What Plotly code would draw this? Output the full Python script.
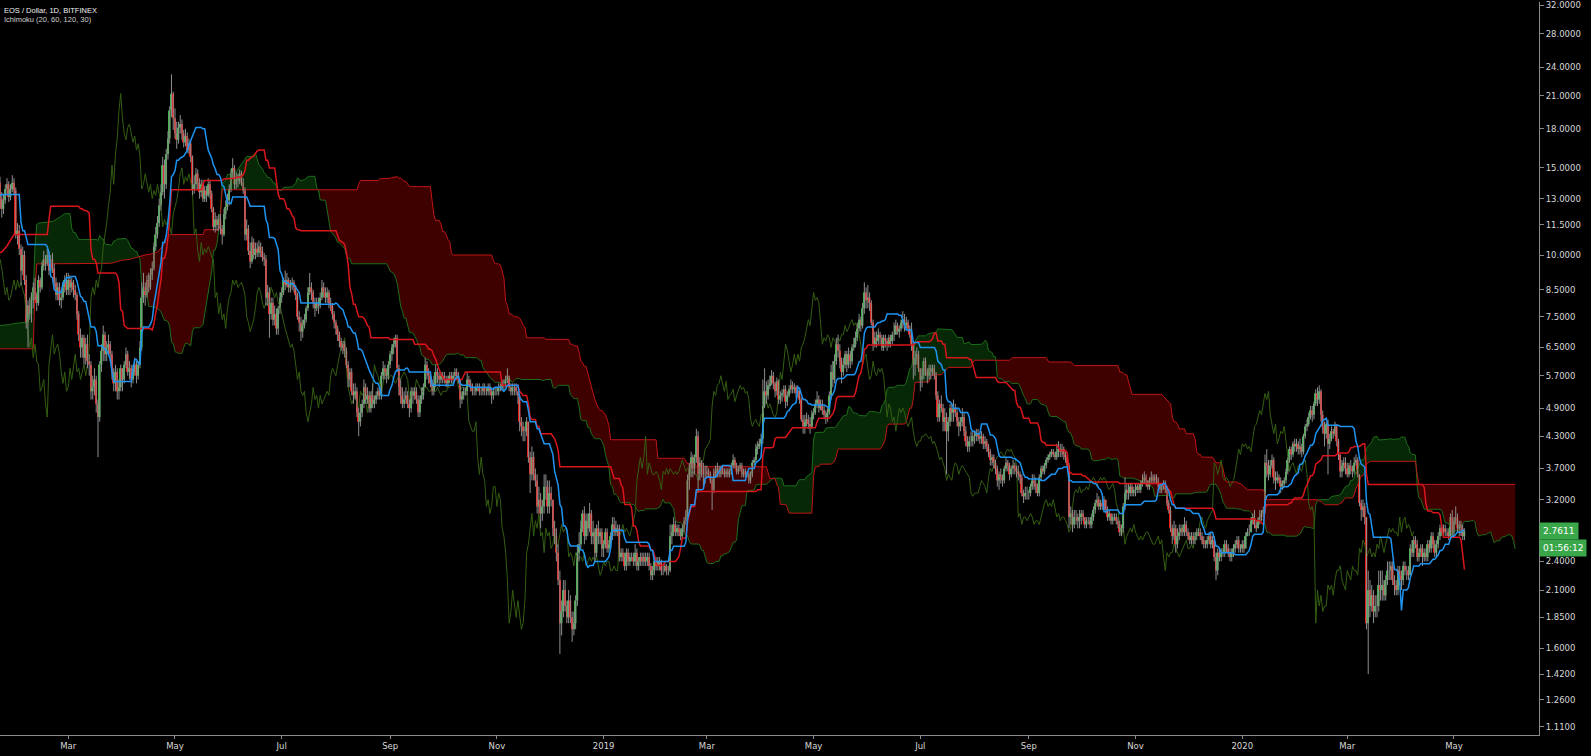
import numpy as np
import pandas as pd
import plotly.graph_objects as go

# EOS / Dollar daily candles (Bitfinex).
# Before the visible window only highs/lows matter (they feed the Ichimoku lines).
pre_start = "2017-08-24"
pre_high = [
    1.55, 1.50, 1.46, 1.48, 1.45, 1.40, 1.35, 1.30,
    1.24, 1.18, 1.08, 0.98, 0.90, 0.94, 0.97, 0.97, 0.93, 0.90, 0.88, 0.85, 0.82, 0.74, 0.70, 0.74, 0.73, 0.80, 0.83, 0.81, 0.78, 0.75, 0.73, 0.75, 0.76, 0.79, 0.82, 0.81, 0.79, 0.78,
    0.78, 0.76, 0.74, 0.72, 0.70, 0.68, 0.67, 0.68, 0.70, 0.72, 0.75, 0.78, 0.84, 0.90, 0.88, 0.83, 0.80, 0.78, 0.76, 0.74, 0.72, 0.70, 0.68, 0.66, 0.66, 0.67, 0.69, 0.71, 0.75, 0.81, 0.90,
    0.95, 1.06, 1.16, 1.14, 1.08, 1.03, 1.04, 1.09, 1.14, 1.19, 1.24, 1.30, 1.35, 1.40, 1.45, 1.50, 1.56, 1.61, 1.58, 1.60, 1.65, 1.70, 1.78, 1.98, 2.20, 2.42, 2.72, 3.05, 3.35, 3.70,
    3.90, 4.00, 4.10, 4.30, 4.20, 4.40, 4.50, 4.30, 4.40, 4.60, 4.50, 4.70, 4.90, 4.80, 4.60, 4.50, 4.40, 4.30, 4.20, 4.10, 9.00, 12.4, 11.5, 9.80, 9.40, 9.60, 9.80, 9.50, 9.30, 9.20, 9.10,
    9.0, 9.6, 10.8, 11.4, 11.6, 12.2, 12.2, 11.8, 11.9, 12.3, 12.1, 16.4, 18.6, 15.4, 14.5, 13.4, 12.3, 12.6, 13.6, 14.3,
]
pre_low = [
    1.38, 1.36, 1.33, 1.34, 1.30, 1.24, 1.18, 1.12,
    1.08, 0.99, 0.90, 0.78, 0.78, 0.84, 0.88, 0.88, 0.85, 0.83, 0.81, 0.77, 0.70, 0.52, 0.56, 0.65, 0.66, 0.68, 0.75, 0.74, 0.71, 0.69, 0.67, 0.69, 0.70, 0.72, 0.75, 0.74, 0.73, 0.72,
    0.71, 0.70, 0.68, 0.66, 0.64, 0.63, 0.62, 0.63, 0.65, 0.67, 0.69, 0.71, 0.74, 0.79, 0.79, 0.76, 0.73, 0.72, 0.70, 0.68, 0.66, 0.64, 0.62, 0.59, 0.60, 0.61, 0.63, 0.64, 0.66, 0.71, 0.76,
    0.83, 0.88, 0.98, 1.00, 0.96, 0.94, 0.96, 0.99, 1.04, 1.09, 1.14, 1.19, 1.24, 1.29, 1.34, 1.39, 1.44, 1.48, 1.45, 1.48, 1.53, 1.58, 1.62, 1.68, 1.86, 2.05, 2.26, 2.55, 2.85, 3.12,
    3.40, 3.50, 3.60, 3.70, 3.70, 3.80, 3.90, 3.80, 3.80, 3.90, 3.90, 4.00, 4.10, 4.00, 3.90, 3.80, 3.70, 3.60, 3.50, 3.40, 5.00, 8.50, 8.00, 7.80, 7.60, 7.90, 8.60, 8.40, 8.30, 8.00, 8.20,
    8.2, 7.8, 9.2, 10.2, 10.6, 11.0, 11.0, 10.3, 10.8, 11.1, 10.5, 11.1, 14.2, 13.6, 12.6, 9.0, 7.9, 11.2, 12.0, 12.8,
]
first_open = 14.0

# visible candles, from 2018-01-21 (one line per month)
start_date = "2018-01-21"
close_2018 = [
    13.0, 12.4, 12.9, 13.6, 13.9, 13.1, 13.6, 14.0, 13.5, 11.0, 11.2,
    10.3, 9.3, 10.0, 8.9, 7.3, 7.9, 7.6, 8.1, 8.6, 8.3, 8.0, 8.9, 8.6, 9.5, 9.8, 9.6, 10.0, 9.3, 9.8, 9.4, 8.8, 8.3, 8.6, 8.1, 8.2, 8.6, 8.9, 8.5,
    8.9, 8.6, 8.8, 8.5, 8.3, 7.6, 6.9, 6.5, 6.8, 6.2, 6.6, 6.1, 6.0, 5.3, 5.4, 5.6, 5.0, 4.7, 6.0, 6.4, 6.9, 6.3, 6.5, 6.6, 6.3, 5.8, 5.5, 5.8, 5.3, 5.4, 5.9,
    5.6, 6.0, 6.3, 5.8, 5.9, 5.6, 5.8, 6.0, 5.7, 6.0, 6.5, 8.2, 8.6, 8.3, 8.9, 8.6, 9.1, 9.4, 10.4, 11.0, 11.6, 12.6, 13.4, 15.2, 13.9, 16.0, 17.2, 19.6, 21.2, 18.9,
    17.6, 17.1, 18.1, 18.4, 17.6, 16.9, 17.4, 16.3, 16.8, 15.8, 13.6, 13.9, 14.6, 14.0, 13.4, 13.9, 13.0, 13.5, 13.2, 13.9, 13.3, 12.4, 11.4, 11.8, 11.5, 11.8, 11.3, 11.0, 12.1, 12.5, 12.9,
    13.6, 14.6, 15.0, 13.9, 14.4, 14.1, 14.6, 14.0, 13.5, 11.0, 11.3, 10.2, 9.7, 10.6, 10.0, 10.3, 10.1, 10.4, 10.2, 9.9, 9.8, 8.2, 8.4, 7.6, 8.0, 7.4, 7.6, 7.1, 7.8, 8.2,
    8.4, 8.9, 8.7, 8.9, 8.6, 8.7, 8.8, 8.6, 8.3, 7.5, 7.3, 7.0, 7.2, 7.4, 7.8, 8.4, 8.6, 8.4, 8.0, 7.8, 8.0, 7.9, 8.2, 8.6, 8.4, 8.2, 8.4, 8.0, 7.9, 7.6, 7.3,
    7.1, 6.9, 6.7, 6.5, 6.6, 6.4, 6.0, 5.6, 5.8, 5.3, 5.2, 5.3, 4.8, 4.6, 4.8, 5.0, 5.4, 5.1, 5.2, 4.9, 5.2, 5.0, 5.1, 5.2, 5.3, 5.2, 5.7, 5.9, 5.8, 5.7, 6.0,
    6.3, 6.5, 6.6, 6.8, 5.9, 5.4, 5.2, 5.0, 5.1, 5.2, 5.0, 4.9, 5.3, 5.2, 5.3, 5.1, 4.8, 5.1, 5.2, 5.4, 6.0, 5.8, 5.7, 5.5, 5.3, 5.5, 5.8, 5.7, 5.6, 5.7,
    5.7, 5.6, 5.5, 5.6, 5.7, 5.6, 5.7, 5.8, 5.7, 5.6, 5.1, 5.2, 5.3, 5.3, 5.6, 5.5, 5.4, 5.3, 5.3, 5.4, 5.4, 5.3, 5.3, 5.4, 5.3, 5.3, 5.4, 5.3, 5.2, 5.3, 5.3,
    5.3, 5.4, 5.4, 5.5, 5.5, 5.6, 5.7, 5.4, 5.3, 5.4, 5.4, 5.3, 5.2, 4.6, 4.5, 4.4, 4.4, 4.6, 3.9, 3.6, 3.9, 3.6, 3.5, 3.1, 3.2, 3.0, 3.1, 3.4, 3.4, 3.1,
    3.3, 3.2, 2.8, 2.7, 2.5, 2.2, 1.8, 1.9, 2.1, 1.95, 1.85, 2.0, 1.85, 1.75, 1.8, 2.0, 2.5, 2.6, 2.8, 3.0, 2.7, 2.9, 2.8, 3.0, 2.7, 2.75, 2.5, 2.8, 2.7, 2.75, 2.55,
]
high_2018 = [
    14.4, 13.4, 13.3, 13.9, 14.3, 14.1, 13.9, 14.5, 14.3, 13.7, 11.6,
    11.5, 10.5, 10.4, 10.2, 9.1, 8.1, 8.2, 8.4, 8.8, 9.0, 8.4, 9.1, 9.0, 9.7, 10.2, 10.0, 10.3, 10.2, 10.0, 10.1, 9.6, 9.0, 8.8, 8.8, 8.5, 8.8, 9.1, 9.2,
    9.2, 9.1, 9.0, 8.9, 8.7, 8.4, 7.7, 7.1, 6.9, 6.9, 6.8, 6.9, 6.3, 6.1, 5.7, 5.9, 5.7, 5.1, 6.1, 6.6, 7.2, 7.0, 6.7, 6.9, 6.7, 6.4, 5.9, 6.0, 5.9, 5.6, 6.0,
    5.9, 6.1, 6.5, 6.4, 6.1, 6.0, 6.0, 6.2, 6.1, 6.1, 6.7, 8.8, 9.2, 8.8, 9.1, 9.2, 9.4, 9.7, 10.6, 11.4, 12.0, 13.0, 13.9, 15.8, 15.6, 16.4, 17.8, 20.0, 23.2, 21.4,
    19.8, 18.6, 18.6, 19.2, 18.8, 17.9, 18.0, 17.7, 17.2, 17.0, 15.9, 14.5, 15.0, 14.9, 14.3, 14.2, 14.2, 13.8, 13.8, 14.3, 14.2, 13.5, 12.5, 12.2, 12.0, 12.1, 12.1, 11.5, 12.4, 12.9, 13.3,
    13.9, 14.9, 15.7, 15.2, 14.7, 14.6, 14.9, 14.8, 14.3, 13.7, 11.8, 11.5, 10.6, 10.9, 10.8, 10.6, 10.6, 10.7, 10.6, 10.4, 10.1, 10.0, 8.7, 8.6, 8.2, 8.2, 7.9, 7.8, 7.9, 8.4,
    8.6, 9.0, 9.3, 9.2, 9.0, 8.9, 9.0, 8.9, 8.7, 8.4, 7.7, 7.5, 7.4, 7.6, 7.9, 8.6, 9.2, 8.8, 8.5, 8.2, 8.2, 8.2, 8.4, 8.9, 8.8, 8.6, 8.6, 8.5, 8.2, 8.0, 7.7,
    7.4, 7.2, 7.0, 6.8, 6.7, 6.7, 6.5, 6.1, 5.9, 5.9, 5.5, 5.5, 5.4, 4.9, 5.0, 5.1, 5.6, 5.5, 5.4, 5.3, 5.3, 5.5, 5.2, 5.3, 5.4, 5.4, 5.8, 6.1, 6.0, 5.9, 6.1,
    6.4, 6.6, 6.8, 6.9, 6.9, 6.0, 5.6, 5.4, 5.3, 5.4, 5.3, 5.1, 5.4, 5.4, 5.4, 5.4, 5.2, 5.2, 5.4, 5.5, 6.2, 6.1, 5.9, 5.8, 5.6, 5.7, 6.0, 5.9, 5.8, 5.8,
    5.8, 5.8, 5.7, 5.7, 5.8, 5.8, 5.8, 5.9, 5.9, 5.8, 5.6, 5.3, 5.4, 5.4, 5.8, 5.7, 5.6, 5.5, 5.4, 5.5, 5.5, 5.5, 5.4, 5.5, 5.5, 5.4, 5.5, 5.5, 5.4, 5.4, 5.4,
    5.4, 5.5, 5.5, 5.6, 5.6, 5.7, 5.9, 5.7, 5.5, 5.5, 5.5, 5.5, 5.3, 5.2, 4.7, 4.6, 4.5, 4.7, 4.6, 4.0, 4.1, 4.0, 3.7, 3.6, 3.4, 3.3, 3.2, 3.6, 3.6, 3.5,
    3.5, 3.4, 3.2, 2.9, 2.8, 2.6, 2.3, 2.0, 2.2, 2.2, 2.0, 2.1, 2.05, 1.9, 1.9, 2.05, 2.6, 2.75, 2.9, 3.05, 3.1, 3.0, 3.0, 3.15, 3.05, 2.9, 2.8, 2.85, 2.9, 2.8, 2.8,
]
low_2018 = [
    12.4, 11.9, 12.1, 12.7, 13.2, 12.8, 12.9, 13.4, 13.2, 10.8, 10.5,
    10.0, 8.7, 9.1, 8.7, 7.1, 6.5, 7.4, 7.3, 7.8, 8.1, 7.7, 7.9, 8.4, 8.5, 9.3, 9.3, 9.5, 9.1, 9.2, 9.2, 8.6, 8.1, 8.1, 7.9, 7.8, 8.1, 8.4, 8.3,
    8.3, 8.3, 8.4, 8.2, 8.1, 7.4, 6.7, 6.2, 6.2, 6.0, 6.0, 5.9, 5.7, 5.1, 5.1, 5.2, 4.8, 3.9, 4.6, 5.8, 6.1, 6.1, 6.1, 6.3, 6.1, 5.6, 5.3, 5.3, 5.1, 5.1, 5.3,
    5.3, 5.5, 5.9, 5.7, 5.6, 5.4, 5.5, 5.7, 5.5, 5.6, 5.9, 6.4, 8.0, 7.9, 8.2, 8.4, 8.5, 8.9, 9.3, 10.2, 10.8, 11.4, 12.3, 13.2, 13.0, 13.6, 15.6, 16.8, 19.0, 17.9,
    17.2, 16.4, 16.8, 17.6, 17.1, 16.5, 16.6, 16.1, 16.0, 15.4, 13.2, 13.3, 13.6, 13.6, 13.0, 13.1, 12.8, 12.8, 12.8, 13.1, 13.0, 12.2, 11.2, 11.1, 11.2, 11.2, 11.0, 10.5, 10.9, 11.8, 12.3,
    12.6, 13.4, 14.3, 13.6, 13.6, 13.7, 13.9, 13.8, 13.3, 10.7, 10.7, 10.0, 9.4, 9.6, 9.8, 9.8, 9.9, 9.9, 9.9, 9.7, 9.5, 7.9, 7.9, 6.8, 7.4, 7.2, 7.2, 6.9, 6.9, 7.6,
    8.0, 8.3, 8.5, 8.6, 8.4, 8.4, 8.5, 8.4, 8.1, 7.4, 7.0, 6.7, 6.8, 7.1, 7.3, 7.7, 8.3, 8.1, 7.8, 7.5, 7.7, 7.6, 7.8, 8.1, 8.2, 8.0, 8.0, 7.8, 7.7, 7.4, 7.1,
    6.9, 6.7, 6.5, 6.4, 6.3, 6.2, 5.9, 5.4, 5.4, 5.2, 5.0, 5.1, 4.7, 4.3, 4.5, 4.7, 4.9, 5.0, 5.0, 4.8, 4.8, 4.9, 4.9, 5.0, 5.1, 5.1, 5.1, 5.6, 5.6, 5.5, 5.6,
    5.9, 6.1, 6.3, 6.5, 5.8, 5.2, 5.0, 4.9, 4.9, 5.0, 4.9, 4.7, 4.8, 5.0, 5.1, 5.0, 4.7, 4.7, 5.0, 5.1, 5.4, 5.6, 5.5, 5.4, 5.2, 5.2, 5.4, 5.5, 5.4, 5.5,
    5.5, 5.5, 5.4, 5.4, 5.5, 5.5, 5.5, 5.6, 5.6, 5.5, 4.9, 5.0, 5.1, 5.2, 5.2, 5.4, 5.3, 5.2, 5.2, 5.2, 5.3, 5.2, 5.2, 5.2, 5.2, 5.2, 5.2, 5.2, 5.0, 5.1, 5.2,
    5.2, 5.2, 5.3, 5.3, 5.3, 5.4, 5.5, 5.3, 5.2, 5.2, 5.2, 5.2, 5.0, 4.4, 4.3, 4.2, 4.2, 4.3, 3.8, 3.3, 3.5, 3.5, 3.4, 3.0, 3.0, 2.8, 2.9, 3.0, 3.2, 3.0,
    3.0, 3.1, 2.7, 2.6, 2.4, 2.15, 1.56, 1.7, 1.85, 1.9, 1.8, 1.8, 1.8, 1.65, 1.7, 1.75, 1.95, 2.4, 2.55, 2.75, 2.6, 2.65, 2.7, 2.75, 2.6, 2.6, 2.4, 2.45, 2.6, 2.6, 2.45,
]
close_2019 = [
    2.6, 2.75, 2.55, 2.6, 2.7, 2.85, 2.75, 2.8, 2.8, 2.45, 2.5, 2.45, 2.35, 2.5, 2.4, 2.45, 2.45, 2.4, 2.5, 2.35, 2.4, 2.45, 2.4, 2.45, 2.4, 2.45, 2.35, 2.25, 2.3, 2.4, 2.35,
    2.4, 2.4, 2.3, 2.3, 2.35, 2.3, 2.3, 2.7, 2.75, 2.85, 2.75, 2.8, 2.75, 2.7, 2.8, 2.9, 3.0, 3.5, 3.7, 3.9, 3.7, 3.9, 4.3, 3.6, 3.8, 3.7, 3.6, 3.6,
    3.65, 3.6, 3.5, 3.35, 3.65, 3.6, 3.7, 3.6, 3.7, 3.65, 3.6, 3.65, 3.6, 3.65, 3.75, 3.85, 3.75, 3.65, 3.7, 3.75, 3.6, 3.65, 3.6, 3.6, 3.5, 3.6, 3.8, 3.85, 4.05, 4.1, 4.15,
    4.25, 4.95, 5.3, 5.2, 5.45, 5.5, 5.7, 5.5, 5.3, 5.55, 5.1, 5.2, 5.25, 5.35, 5.05, 5.2, 5.35, 5.45, 5.35, 5.4, 5.25, 5.3, 5.1, 4.65, 4.5, 4.6, 4.65, 4.55, 4.5, 4.75,
    4.8, 5.0, 5.1, 4.9, 5.0, 4.85, 4.75, 4.7, 4.8, 5.2, 5.8, 5.6, 6.1, 6.6, 6.4, 6.1, 5.8, 6.0, 6.3, 6.0, 6.3, 6.1, 6.5, 6.6, 6.8, 7.1, 7.4, 7.2, 7.8, 8.4, 8.1,
    8.2, 8.0, 7.3, 6.6, 6.8, 6.7, 6.9, 6.8, 6.5, 6.8, 6.7, 6.6, 6.8, 6.7, 6.9, 6.9, 7.2, 7.0, 7.1, 7.3, 7.4, 7.2, 7.3, 7.1, 6.9, 6.6, 6.0, 6.2, 6.3, 5.9,
    5.6, 5.7, 6.1, 5.8, 5.7, 5.9, 5.8, 5.9, 5.7, 5.2, 4.7, 5.0, 4.9, 4.6, 4.7, 4.4, 4.6, 4.9, 4.8, 4.9, 4.8, 4.6, 4.5, 4.6, 4.7, 4.4, 4.2, 4.1, 4.2, 4.2, 4.3,
    4.3, 4.35, 4.3, 4.25, 4.3, 4.15, 4.2, 4.1, 4.0, 3.85, 3.9, 3.8, 3.7, 3.5, 3.6, 3.55, 3.5, 3.7, 3.8, 3.75, 3.6, 3.7, 3.75, 3.7, 3.65, 3.6, 3.55, 3.3, 3.25, 3.3, 3.3,
    3.3, 3.4, 3.5, 3.45, 3.4, 3.3, 3.55, 3.7, 3.65, 3.75, 3.85, 3.9, 3.95, 4.0, 3.95, 3.9, 4.0, 4.05, 4.0, 4.05, 3.95, 3.9, 3.75, 2.95, 3.0, 2.85, 2.95, 2.95, 2.9, 2.95,
    3.0, 2.95, 2.85, 2.9, 2.9, 2.85, 2.95, 3.05, 3.15, 3.2, 3.1, 3.15, 3.1, 3.2, 3.05, 2.95, 3.0, 2.9, 2.95, 2.95, 2.9, 2.85, 2.75, 2.8, 3.1, 3.3, 3.35, 3.3, 3.4, 3.3, 3.35,
    3.35, 3.4, 3.35, 3.45, 3.5, 3.55, 3.5, 3.4, 3.5, 3.55, 3.5, 3.55, 3.5, 3.4, 3.35, 3.4, 3.45, 3.35, 3.15, 3.05, 2.8, 2.7, 2.8, 2.6, 2.7, 2.75, 2.8, 2.75, 2.85, 2.75,
    2.7, 2.65, 2.7, 2.65, 2.7, 2.75, 2.75, 2.7, 2.65, 2.6, 2.6, 2.65, 2.7, 2.6, 2.65, 2.45, 2.3, 2.5, 2.45, 2.5, 2.5, 2.6, 2.55, 2.5, 2.45, 2.5, 2.55, 2.6, 2.65, 2.55, 2.55,
]
high_2019 = [
    2.65, 2.8, 2.8, 2.65, 2.75, 2.95, 2.95, 2.9, 2.85, 2.85, 2.55, 2.55, 2.5, 2.55, 2.55, 2.5, 2.5, 2.5, 2.6, 2.55, 2.45, 2.5, 2.5, 2.5, 2.5, 2.5, 2.5, 2.38, 2.35, 2.45, 2.45,
    2.45, 2.45, 2.42, 2.35, 2.4, 2.37, 2.35, 2.85, 2.85, 2.95, 2.9, 2.85, 2.85, 2.8, 2.85, 2.95, 3.05, 3.6, 3.8, 4.0, 3.95, 3.95, 4.45, 4.4, 3.9, 3.85, 3.8, 3.75,
    3.75, 3.7, 3.65, 3.55, 3.7, 3.75, 3.8, 3.75, 3.75, 3.75, 3.7, 3.7, 3.7, 3.7, 3.8, 3.95, 3.9, 3.8, 3.75, 3.8, 3.8, 3.7, 3.7, 3.65, 3.65, 3.65, 3.85, 3.9, 4.15, 4.2, 4.25,
    4.35, 5.6, 5.9, 5.55, 5.6, 5.7, 5.85, 5.8, 5.55, 5.65, 5.6, 5.3, 5.35, 5.45, 5.45, 5.3, 5.45, 5.6, 5.55, 5.5, 5.45, 5.45, 5.35, 5.15, 4.75, 4.75, 4.8, 4.75, 4.7, 4.85,
    4.9, 5.1, 5.3, 5.2, 5.1, 5.1, 4.95, 4.85, 4.9, 5.3, 6.0, 6.1, 6.3, 6.8, 6.9, 6.6, 6.2, 6.2, 6.4, 6.4, 6.5, 6.4, 6.6, 6.8, 7.0, 7.3, 7.6, 7.5, 8.0, 8.8, 8.6,
    8.7, 8.4, 8.1, 7.4, 7.0, 7.0, 7.1, 7.0, 6.9, 6.9, 6.9, 6.8, 6.9, 6.9, 7.0, 7.3, 7.4, 7.3, 7.2, 7.4, 7.7, 7.6, 7.5, 7.4, 7.2, 7.3, 6.7, 6.4, 6.5, 6.4,
    5.9, 5.9, 6.2, 6.2, 5.9, 6.0, 6.0, 6.0, 6.0, 5.8, 5.3, 5.1, 5.2, 5.0, 4.9, 4.8, 4.7, 5.0, 5.0, 5.1, 5.0, 4.9, 4.7, 4.7, 4.9, 4.8, 4.5, 4.3, 4.3, 4.4, 4.4,
    4.4, 4.45, 4.45, 4.35, 4.4, 4.35, 4.3, 4.25, 4.15, 4.05, 3.95, 3.95, 3.85, 3.75, 3.65, 3.7, 3.6, 3.75, 3.9, 3.85, 3.8, 3.75, 3.85, 3.8, 3.75, 3.75, 3.65, 3.6, 3.35, 3.4, 3.4,
    3.35, 3.45, 3.6, 3.6, 3.55, 3.45, 3.6, 3.75, 3.75, 3.8, 3.9, 3.95, 4.0, 4.05, 4.05, 4.0, 4.15, 4.2, 4.15, 4.15, 4.1, 4.0, 3.95, 3.8, 3.1, 3.05, 3.05, 3.05, 3.0, 3.05,
    3.05, 3.05, 2.95, 2.95, 2.95, 2.95, 3.0, 3.1, 3.2, 3.3, 3.25, 3.2, 3.2, 3.25, 3.2, 3.1, 3.05, 3.0, 3.0, 3.0, 3.0, 2.95, 2.9, 2.85, 3.15, 3.55, 3.45, 3.45, 3.45, 3.45, 3.4,
    3.45, 3.45, 3.45, 3.5, 3.6, 3.65, 3.6, 3.5, 3.55, 3.65, 3.6, 3.6, 3.6, 3.55, 3.45, 3.45, 3.5, 3.5, 3.4, 3.2, 3.1, 2.85, 2.9, 2.85, 2.8, 2.85, 2.85, 2.85, 2.95, 2.9,
    2.8, 2.75, 2.75, 2.75, 2.75, 2.8, 2.8, 2.8, 2.75, 2.7, 2.65, 2.7, 2.75, 2.75, 2.7, 2.7, 2.5, 2.55, 2.55, 2.55, 2.55, 2.65, 2.65, 2.6, 2.55, 2.55, 2.6, 2.65, 2.7, 2.7, 2.6,
]
low_2019 = [
    2.45, 2.55, 2.5, 2.5, 2.55, 2.65, 2.7, 2.7, 2.7, 2.4, 2.4, 2.4, 2.3, 2.3, 2.35, 2.35, 2.4, 2.35, 2.35, 2.3, 2.3, 2.35, 2.35, 2.35, 2.35, 2.35, 2.3, 2.2, 2.2, 2.25, 2.3,
    2.3, 2.3, 2.25, 2.25, 2.28, 2.25, 2.25, 2.28, 2.6, 2.7, 2.7, 2.7, 2.7, 2.65, 2.65, 2.75, 2.85, 2.95, 3.35, 3.55, 3.55, 3.6, 3.8, 3.3, 3.5, 3.55, 3.4, 3.45,
    3.55, 3.55, 3.45, 3.05, 3.3, 3.55, 3.55, 3.55, 3.55, 3.6, 3.55, 3.55, 3.55, 3.55, 3.6, 3.7, 3.7, 3.6, 3.6, 3.65, 3.55, 3.55, 3.55, 3.55, 3.45, 3.45, 3.55, 3.75, 3.8, 3.95, 4.05,
    4.1, 4.15, 4.9, 5.0, 5.1, 5.35, 5.45, 5.35, 5.15, 5.2, 5.0, 5.0, 5.05, 5.15, 4.9, 4.95, 5.15, 5.25, 5.25, 5.25, 5.15, 5.15, 5.0, 4.6, 4.35, 4.35, 4.5, 4.45, 4.35, 4.45,
    4.65, 4.75, 4.9, 4.8, 4.85, 4.75, 4.65, 4.55, 4.6, 4.75, 5.1, 5.4, 5.5, 6.0, 6.2, 5.9, 5.5, 5.7, 5.9, 5.8, 5.9, 5.9, 6.0, 6.4, 6.5, 6.7, 7.0, 7.0, 7.1, 7.6, 7.8,
    7.8, 7.7, 7.2, 6.4, 6.5, 6.5, 6.6, 6.6, 6.4, 6.4, 6.5, 6.4, 6.5, 6.5, 6.6, 6.7, 6.9, 6.9, 6.8, 7.0, 7.1, 7.0, 7.1, 7.0, 6.8, 6.4, 5.6, 5.7, 6.0, 5.8,
    5.3, 5.4, 5.6, 5.7, 5.5, 5.6, 5.6, 5.7, 5.6, 5.1, 4.6, 4.6, 4.8, 4.4, 4.4, 3.6, 4.2, 4.5, 4.6, 4.6, 4.7, 4.5, 4.3, 4.4, 4.5, 4.3, 4.1, 4.0, 4.0, 4.1, 4.1,
    4.15, 4.2, 4.2, 4.15, 4.15, 4.05, 4.05, 4.0, 3.9, 3.75, 3.75, 3.7, 3.6, 3.4, 3.35, 3.45, 3.4, 3.45, 3.65, 3.65, 3.5, 3.55, 3.6, 3.6, 3.55, 3.5, 3.45, 3.25, 3.15, 3.2, 3.2,
    3.2, 3.25, 3.35, 3.35, 3.3, 3.25, 3.25, 3.5, 3.6, 3.6, 3.7, 3.8, 3.85, 3.9, 3.9, 3.85, 3.85, 3.9, 3.9, 3.9, 3.85, 3.8, 3.7, 2.8, 2.85, 2.75, 2.8, 2.85, 2.8, 2.8,
    2.85, 2.9, 2.8, 2.8, 2.85, 2.8, 2.8, 2.9, 3.0, 3.1, 3.05, 3.05, 3.05, 3.05, 3.0, 2.9, 2.9, 2.85, 2.85, 2.9, 2.85, 2.8, 2.7, 2.7, 2.75, 3.05, 3.2, 3.2, 3.25, 3.25, 3.25,
    3.25, 3.3, 3.3, 3.3, 3.4, 3.45, 3.4, 3.35, 3.35, 3.45, 3.45, 3.45, 3.45, 3.35, 3.3, 3.3, 3.35, 3.3, 3.1, 3.0, 2.75, 2.6, 2.65, 2.5, 2.55, 2.65, 2.7, 2.7, 2.7, 2.7,
    2.65, 2.6, 2.6, 2.6, 2.6, 2.65, 2.7, 2.65, 2.6, 2.55, 2.55, 2.55, 2.6, 2.55, 2.55, 2.4, 2.2, 2.25, 2.4, 2.4, 2.45, 2.45, 2.5, 2.45, 2.4, 2.4, 2.45, 2.5, 2.55, 2.5, 2.5,
]
close_2020 = [
    2.6, 2.55, 2.7, 2.75, 2.75, 2.9, 2.95, 2.85, 2.8, 2.9, 2.95, 3.0, 3.05, 3.8, 3.75, 3.6, 3.75, 3.85, 3.55, 3.5, 3.55, 3.5, 3.4, 3.45, 3.5, 3.65, 3.85, 4.05, 3.95, 4.15, 4.1,
    4.15, 4.05, 4.1, 4.0, 4.3, 4.5, 4.55, 4.7, 4.85, 4.75, 5.0, 5.25, 5.1, 5.3, 4.75, 4.5, 4.35, 4.55, 4.15, 4.25, 4.4, 4.35, 4.5, 4.2, 3.95, 3.65, 3.75, 3.8, 3.7,
    3.6, 3.75, 3.7, 3.65, 3.8, 3.85, 3.6, 3.15, 3.05, 3.1, 2.95, 1.8, 2.1, 1.95, 2.05, 1.9, 1.95, 1.95, 2.15, 2.1, 2.15, 2.05, 2.2, 2.3, 2.3, 2.35, 2.2, 2.15, 2.1, 2.3, 2.25,
    2.2, 2.35, 2.3, 2.3, 2.25, 2.55, 2.5, 2.65, 2.6, 2.45, 2.5, 2.55, 2.45, 2.5, 2.45, 2.6, 2.55, 2.7, 2.6, 2.5, 2.6, 2.7, 2.8, 2.75, 2.8, 2.75, 2.75, 2.7, 2.95, 2.75,
    2.9, 2.95, 2.8, 2.85, 2.8, 2.7, 2.7611,
]
high_2020 = [
    2.65, 2.65, 2.75, 2.8, 2.85, 2.95, 3.0, 3.05, 2.9, 2.95, 3.05, 3.05, 3.1, 3.95, 4.05, 3.85, 3.85, 3.95, 3.9, 3.65, 3.65, 3.6, 3.55, 3.5, 3.55, 3.7, 3.9, 4.1, 4.1, 4.2, 4.25,
    4.25, 4.2, 4.25, 4.15, 4.35, 4.55, 4.65, 4.8, 4.95, 4.95, 5.05, 5.35, 5.4, 5.45, 5.35, 4.85, 4.6, 4.6, 4.65, 4.35, 4.5, 4.45, 4.6, 4.55, 4.25, 3.95, 3.85, 3.9, 3.9,
    3.8, 3.8, 3.85, 3.75, 3.9, 3.95, 3.9, 3.6, 3.2, 3.2, 3.15, 2.95, 2.3, 2.2, 2.15, 2.1, 2.05, 2.05, 2.3, 2.3, 2.3, 2.2, 2.25, 2.4, 2.4, 2.4, 2.4, 2.25, 2.2, 2.35, 2.35,
    2.3, 2.4, 2.4, 2.35, 2.35, 2.6, 2.65, 2.7, 2.7, 2.65, 2.55, 2.6, 2.6, 2.55, 2.55, 2.65, 2.65, 2.75, 2.75, 2.65, 2.65, 2.75, 2.85, 2.85, 2.85, 2.85, 2.8, 2.8, 3.0, 3.05,
    2.95, 3.1, 3.0, 2.9, 2.9, 2.85, 2.8,
]
low_2020 = [
    2.5, 2.5, 2.55, 2.7, 2.7, 2.75, 2.85, 2.8, 2.75, 2.8, 2.85, 2.9, 2.95, 3.0, 3.55, 3.5, 3.55, 3.7, 3.45, 3.35, 3.45, 3.45, 3.3, 3.35, 3.4, 3.45, 3.6, 3.8, 3.85, 3.9, 4.0,
    4.0, 3.95, 3.95, 3.9, 3.95, 4.25, 4.4, 4.5, 4.65, 4.6, 4.65, 4.95, 4.95, 5.0, 4.6, 4.35, 4.1, 4.25, 3.6, 4.05, 4.2, 4.25, 4.3, 4.1, 3.85, 3.55, 3.55, 3.65, 3.6,
    3.55, 3.55, 3.6, 3.55, 3.6, 3.75, 3.55, 3.1, 2.9, 2.95, 2.85, 1.75, 1.42, 1.85, 1.9, 1.8, 1.85, 1.85, 1.9, 2.0, 2.0, 2.0, 2.0, 2.15, 2.2, 2.2, 2.15, 2.05, 2.05, 2.05, 2.15,
    2.1, 2.15, 2.25, 2.2, 2.2, 2.25, 2.45, 2.45, 2.55, 2.4, 2.4, 2.45, 2.35, 2.4, 2.4, 2.4, 2.5, 2.5, 2.55, 2.45, 2.45, 2.55, 2.65, 2.7, 2.7, 2.7, 2.7, 2.65, 2.65, 2.7,
    2.7, 2.85, 2.75, 2.7, 2.7, 2.65, 2.65,
]

# axis labels as TradingView printed them
month_ticks = ["2018-03-01", "2018-05-01", "2018-07-01", "2018-09-01", "2018-11-01", "2019-01-01", "2019-03-01",
               "2019-05-01", "2019-07-01", "2019-09-01", "2019-11-01", "2020-01-01", "2020-03-01", "2020-05-01"]
month_labels = ["Mar", "May", "Jul", "Sep", "Nov", "2019", "Mar", "May", "Jul", "Sep", "Nov", "2020", "Mar", "May"]
price_ticks = [1.11, 1.26, 1.42, 1.6, 1.85, 2.1, 2.4, 3.2, 3.7, 4.3, 4.9, 5.7, 6.5, 7.5, 8.5,
               10, 11.5, 13, 15, 18, 21, 24, 28, 32]
last_price = 2.7611
countdown = "01:56:12"

# Ichimoku (20, 60, 120, 30)
conv_len, base_len, span_len, displacement = 20, 60, 120, 30

UP = "#3fb34a"
DOWN = "#ee1c18"
WICK = "#8e8e8e"
AXIS = "#8a8a8a"
TXT = "#d8d8d8"

# ---------------------------------------------------------------------------
close = np.array(close_2018 + close_2019 + close_2020)
high = np.array(high_2018 + high_2019 + high_2020)
low = np.array(low_2018 + low_2019 + low_2020)
dates = pd.date_range(start_date, periods=len(close), freq="D")
opens = np.concatenate([[first_open], close[:-1]])

all_high = pd.Series(pre_high + list(high))
all_low = pd.Series(pre_low + list(low))
all_dates = pd.date_range(pre_start, periods=len(all_high), freq="D")


def midpoint(n):
    return (all_high.rolling(n).max() + all_low.rolling(n).min()) / 2


conv = midpoint(conv_len)
base = midpoint(base_len)
span_a = ((conv + base) / 2).to_numpy()
span_b = midpoint(span_len).to_numpy()
offset = pd.Timedelta(days=displacement - 1)
lead_dates = all_dates + offset

fig = go.Figure()

# cloud, split wherever span A and span B swap places
ok = np.where(~np.isnan(span_a) & ~np.isnan(span_b))[0]
bull = span_a >= span_b
segments = []
seg0 = ok[0]
for i in range(ok[0] + 1, ok[-1] + 1):
    if bull[i] != bull[i - 1]:
        segments.append((seg0, i))
        seg0 = i
segments.append((seg0, ok[-1]))
for s, e in segments:
    xs = lead_dates[s:e + 1]
    fig.add_trace(go.Scatter(x=xs, y=span_b[s:e + 1], mode="lines", line=dict(width=0),
                             hoverinfo="skip", showlegend=False))
    fig.add_trace(go.Scatter(x=xs, y=span_a[s:e + 1], mode="lines", line=dict(width=0),
                             fill="tonexty",
                             fillcolor="rgba(14,80,14,0.5)" if bull[s] else "rgba(120,0,0,0.52)",
                             hoverinfo="skip", showlegend=False))

fig.add_trace(go.Scatter(x=lead_dates, y=span_a, mode="lines", line=dict(color="#1d6e1a", width=1),
                         name="Lead 1"))
fig.add_trace(go.Scatter(x=lead_dates, y=span_b, mode="lines", line=dict(color="#c01515", width=1),
                         name="Lead 2"))

# lagging span
fig.add_trace(go.Scatter(x=dates - offset, y=close, mode="lines", line=dict(color="#345e12", width=1),
                         name="Lagging Span"))

# wicks (grey) under coloured bodies
wick_x, wick_y = [], []
for d, lo, hi in zip(dates, low, high):
    wick_x += [d, d, None]
    wick_y += [lo, hi, None]
fig.add_trace(go.Scatter(x=wick_x, y=wick_y, mode="lines", line=dict(color=WICK, width=1),
                         hoverinfo="skip", showlegend=False))

body_low = np.minimum(opens, close)
body_high = np.maximum(opens, close)
fig.add_trace(go.Bar(
    x=dates, y=body_high - body_low, base=body_low,
    width=0.95 * 86400000,
    marker=dict(color=[UP if c >= o else DOWN for o, c in zip(opens, close)], line=dict(width=0)),
    name="EOS/USD", hoverinfo="skip",
))

fig.add_trace(go.Scatter(x=all_dates, y=base, mode="lines", line=dict(color="#d8161b", width=1.5),
                         name="Base Line"))
fig.add_trace(go.Scatter(x=all_dates, y=conv, mode="lines", line=dict(color="#1e94f0", width=1.5),
                         name="Conversion Line"))

x0 = pd.Timestamp(start_date)
x1 = x0 + pd.Timedelta(days=879.6)

fig.update_layout(
    width=1591, height=756,
    paper_bgcolor="#000000", plot_bgcolor="#000000",
    margin=dict(l=0, r=52, t=0, b=21),
    showlegend=False,
    font=dict(family="DejaVu Sans", color=TXT),
    xaxis=dict(
        type="date", range=[x0, x1], rangeslider=dict(visible=False),
        tickmode="array", tickvals=pd.to_datetime(month_ticks), ticktext=month_labels,
        ticks="outside", ticklen=3, tickcolor=AXIS, showline=True, linecolor=AXIS, linewidth=1,
        showgrid=False, zeroline=False, tickfont=dict(size=8.5, color=TXT),
    ),
    yaxis=dict(
        type="log", side="right", range=[np.log10(1.0693), np.log10(32.49)],
        tickmode="array", tickvals=price_ticks, ticktext=[f"{v:.4f}" for v in price_ticks],
        ticks="outside", ticklen=4, tickcolor=AXIS, showline=True, linecolor=AXIS, linewidth=1,
        showgrid=False, zeroline=False, tickfont=dict(size=8.5, color=TXT),
        ticklabeloverflow="allow",
    ),
)

fig.add_annotation(xref="paper", yref="paper", x=0, y=1, xanchor="left", yanchor="top",
                   xshift=2, yshift=-2, showarrow=False, align="left",
                   text="EOS / Dollar, 1D, BITFINEX",
                   font=dict(family="Liberation Sans", size=7.5, color="#f0f0f0"))
fig.add_annotation(xref="paper", yref="paper", x=0, y=1, xanchor="left", yanchor="top",
                   xshift=2, yshift=-11, showarrow=False, align="left",
                   text="Ichimoku (20, 60, 120, 30)",
                   font=dict(family="Liberation Sans", size=7.5, color="#cfcfcf"))

fig.add_annotation(xref="paper", yref="y", x=1, y=np.log10(last_price), xanchor="left",
                   yanchor="middle", showarrow=False, text=f"{last_price:.4f}",
                   bgcolor="#3aa74a", borderpad=3, font=dict(size=9, color="#ffffff"))
fig.add_annotation(xref="paper", yref="y", x=1, y=np.log10(last_price), xanchor="left",
                   yanchor="middle", yshift=-17, showarrow=False, text=countdown,
                   bgcolor="#3aa74a", borderpad=3, font=dict(size=9, color="#ffffff"))

fig.write_html("out.html", config={"displayModeBar": False},
               post_script="document.body.style.margin='0';document.body.style.overflow='hidden';")
